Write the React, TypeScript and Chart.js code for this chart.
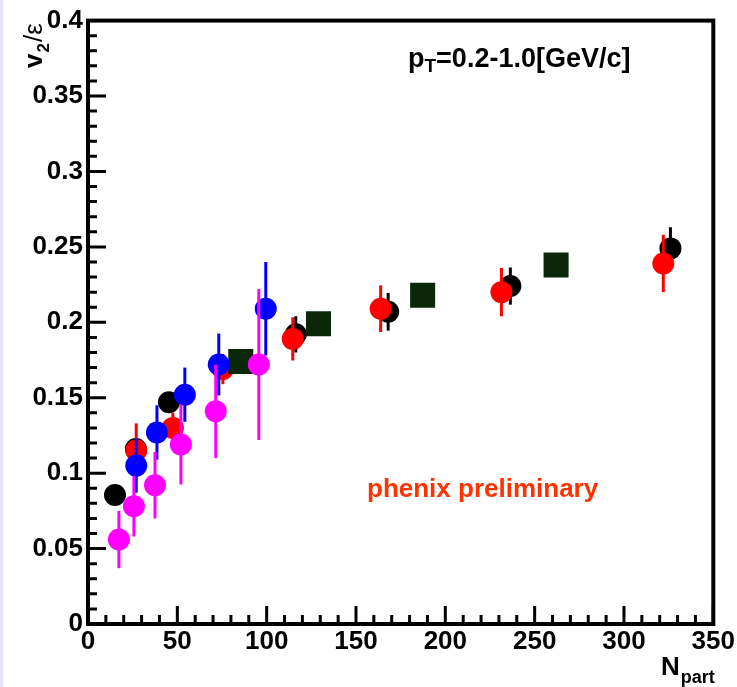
import React, { useEffect, useRef } from "react";
import { Chart, registerables } from "chart.js";

Chart.register(...registerables);

// ---- axis ticks ----
const xTickValues = [0, 50, 100, 150, 200, 250, 300, 350];
const yTickValues = [0, 0.05, 0.1, 0.15, 0.2, 0.25, 0.3, 0.35, 0.4];
const xMinorStep = 10;
const yMinorStep = 0.01;

// ---- data (Npart, v2/eps, error) ----
const blackN = [15.1, 26.8, 45.3, 116.3, 168, 236.4, 326];
const blackV = [0.0855, 0.116, 0.147, 0.192, 0.207, 0.224, 0.249];
const blackErr = [0.003, 0.006, 0.004, 0.012, 0.0125, 0.0123, 0.014];

const redN = [27, 47.5, 75.5, 114.6, 163.8, 231.4, 322];
const redV = [0.115, 0.13, 0.169, 0.189, 0.209, 0.22, 0.239];
const redErr = [0.018, 0.01, 0.01, 0.0143, 0.0155, 0.016, 0.019];

const greenN = [85.5, 129, 187.3, 262];
const greenV = [0.174, 0.199, 0.218, 0.238];

const blueN = [27, 38.6, 54.2, 73.2, 99.5];
const blueV = [0.105, 0.127, 0.152, 0.172, 0.209];
const blueErr = [0.018, 0.018, 0.018, 0.0205, 0.031];

const magentaN = [17.3, 25.7, 37.5, 52, 71.5, 95.6];
const magentaV = [0.056, 0.078, 0.092, 0.119, 0.141, 0.172];
const magentaErr = [0.019, 0.02, 0.022, 0.0265, 0.031, 0.05];

const FONT = "'Liberation Sans', Arial, Helvetica, sans-serif";

function pts(xs: number[], ys: number[]) {
  return xs.map((x, i) => ({ x, y: ys[i] }));
}

const plotPlugin = {
  id: "rootStyle",
  beforeDraw(chart: any) {
    const ctx = chart.ctx;
    ctx.save();
    ctx.fillStyle = "#ffffff";
    ctx.fillRect(0, 0, chart.width, chart.height);
    ctx.fillStyle = "#e6e6fa";
    ctx.fillRect(0, 0, 3, chart.height);
    ctx.restore();
  },
  beforeDatasetDraw(chart: any, args: any) {
    const ds = chart.data.datasets[args.index];
    if (!ds.errors) return;
    const ctx = chart.ctx;
    const xs = chart.scales.x;
    const ys = chart.scales.y;
    ctx.save();
    ctx.strokeStyle = ds.backgroundColor;
    ctx.lineWidth = 3;
    ds.data.forEach((p: any, i: number) => {
      const e = ds.errors[i];
      const px = xs.getPixelForValue(p.x);
      ctx.beginPath();
      ctx.moveTo(px, ys.getPixelForValue(p.y - e));
      ctx.lineTo(px, ys.getPixelForValue(p.y + e));
      ctx.stroke();
    });
    ctx.restore();
  },
  afterDraw(chart: any) {
    const ctx = chart.ctx;
    const a = chart.chartArea;
    const xs = chart.scales.x;
    const ys = chart.scales.y;
    ctx.save();
    // frame
    ctx.strokeStyle = "#000";
    ctx.lineWidth = 4;
    ctx.strokeRect(a.left, a.top, a.right - a.left, a.bottom - a.top);
    // ticks (inward)
    ctx.lineWidth = 3;
    ctx.beginPath();
    for (let v = xs.min; v <= xs.max + 1e-9; v += xMinorStep) {
      const major = xTickValues.some((t) => Math.abs(t - v) < 1e-6);
      const px = xs.getPixelForValue(v);
      ctx.moveTo(px, a.bottom);
      ctx.lineTo(px, a.bottom - (major ? 18 : 9));
    }
    const nY = Math.round((ys.max - ys.min) / yMinorStep);
    for (let k = 0; k <= nY; k++) {
      const v = ys.min + k * yMinorStep;
      const major = yTickValues.some((t) => Math.abs(t - v) < 1e-6);
      const py = ys.getPixelForValue(v);
      ctx.moveTo(a.left, py);
      ctx.lineTo(a.left + (major ? 18 : 9), py);
    }
    ctx.stroke();

    ctx.fillStyle = "#000";
    ctx.textBaseline = "alphabetic";
    ctx.textAlign = "left";

    // y title  v_2/ε (rotated)
    ctx.save();
    ctx.translate(42, 68);
    ctx.rotate(-Math.PI / 2);
    ctx.font = `bold 26px ${FONT}`;
    ctx.fillText("v", 0, 0);
    let w = ctx.measureText("v").width;
    ctx.font = `bold 17px ${FONT}`;
    ctx.fillText("2", w + 1, 7);
    w += ctx.measureText("2").width + 2;
    ctx.font = `26px ${FONT}`;
    ctx.fillText("/\u03b5", w, 0);
    ctx.restore();

    // x title N_part
    ctx.font = `bold 26px ${FONT}`;
    ctx.fillText("N", 661, 675);
    const nw = ctx.measureText("N").width;
    ctx.font = `bold 18px ${FONT}`;
    ctx.fillText("part", 661 + nw + 1, 683);

    // annotation p_T=0.2-1.0[GeV/c]
    ctx.font = `bold 27px ${FONT}`;
    ctx.fillText("p", 408, 67);
    let ax = 408 + ctx.measureText("p").width;
    ctx.font = `bold 19px ${FONT}`;
    ctx.fillText("T", ax, 72);
    ax += ctx.measureText("T").width;
    ctx.font = `bold 27px ${FONT}`;
    ctx.fillText("=0.2-1.0[GeV/c]", ax, 67);

    // preliminary
    ctx.fillStyle = "#ff3300";
    ctx.font = `bold 26px ${FONT}`;
    ctx.fillText("phenix preliminary", 367, 497);
    ctx.restore();
  },
};

export default function App() {
  const ref = useRef<HTMLCanvasElement | null>(null);
  useEffect(() => {
    document.body.style.margin = "0";
    if (!ref.current) return;
    const chart = new Chart(ref.current, {
      type: "scatter",
      data: {
        datasets: [
          {
            label: "magenta",
            data: pts(magentaN, magentaV),
            errors: magentaErr,
            backgroundColor: "#ff00ff",
            borderColor: "#ff00ff",
            pointRadius: 11,
            borderWidth: 0,
          } as any,
          {
            label: "blue",
            data: pts(blueN, blueV),
            errors: blueErr,
            backgroundColor: "#0000ff",
            borderColor: "#0000ff",
            pointRadius: 11,
            borderWidth: 0,
          } as any,
          {
            label: "green",
            data: pts(greenN, greenV),
            backgroundColor: "#0a270a",
            borderColor: "#0a270a",
            pointStyle: "rect",
            pointRadius: 17.7,
            borderWidth: 0,
          } as any,
          {
            label: "red",
            data: pts(redN, redV),
            errors: redErr,
            backgroundColor: "#ff0000",
            borderColor: "#ff0000",
            pointRadius: 11,
            borderWidth: 0,
          } as any,
          {
            label: "black",
            data: pts(blackN, blackV),
            errors: blackErr,
            backgroundColor: "#000000",
            borderColor: "#000000",
            pointRadius: 11,
            borderWidth: 0,
          } as any,
        ],
      },
      options: {
        animation: false,
        responsive: false,
        maintainAspectRatio: false,
        devicePixelRatio: 1,
        layout: { padding: { top: 19, right: 23, left: 0, bottom: 0 } },
        plugins: {
          legend: { display: false },
          tooltip: { enabled: false },
        },
        scales: {
          x: {
            type: "linear",
            min: 0,
            max: 350,
            afterBuildTicks: (s: any) => {
              s.ticks = xTickValues.map((v) => ({ value: v }));
            },
            afterFit: (s: any) => {
              s.height = 63;
            },
            grid: { display: false, drawTicks: false },
            border: { display: false },
            ticks: {
              autoSkip: false,
              maxRotation: 0,
              padding: 2,
              color: "#000",
              font: { family: FONT, size: 26, weight: "bold" },
              callback: (v: any) => String(v),
            },
          },
          y: {
            type: "linear",
            min: 0,
            max: 0.4,
            afterBuildTicks: (s: any) => {
              s.ticks = yTickValues.map((v) => ({ value: v }));
            },
            afterFit: (s: any) => {
              s.width = 88;
            },
            grid: { display: false, drawTicks: false },
            border: { display: false },
            ticks: {
              autoSkip: false,
              padding: 5,
              color: "#000",
              font: { family: FONT, size: 26, weight: "bold" },
              callback: (v: any) => String(parseFloat(Number(v).toFixed(2))),
            },
          },
        },
      },
      plugins: [plotPlugin],
    } as any);
    return () => chart.destroy();
  }, []);
  return (
    <div style={{ width: 737, height: 687, background: "#fff" }}>
      <canvas ref={ref} width={737} height={687} style={{ display: "block" }} />
    </div>
  );
}
